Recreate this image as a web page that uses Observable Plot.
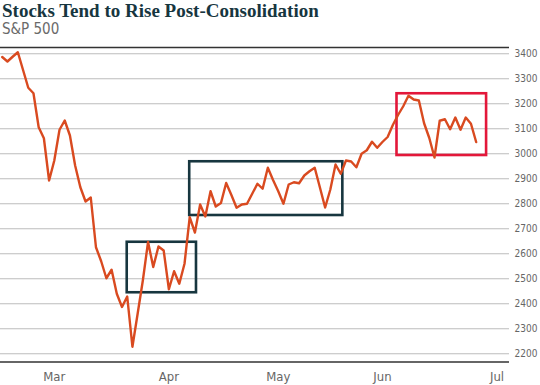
<!DOCTYPE html>
<html><head><meta charset="utf-8">
<script src="https://cdn.jsdelivr.net/npm/d3@7"></script>
<script src="https://cdn.jsdelivr.net/npm/@observablehq/plot@0.6"></script>
<style>
body{margin:0;background:#fff;width:540px;height:385px;overflow:hidden}
#head{height:40px;position:relative}
#title{position:absolute;left:2px;top:1px;line-height:19px;font-family:"Liberation Serif","DejaVu Serif",serif;font-weight:bold;font-size:19px;color:#17363f;white-space:nowrap}
#sub{position:absolute;left:2px;top:21px;line-height:16px;font-family:"Liberation Sans Narrow","DejaVu Sans Condensed","Roboto",sans-serif;font-size:15px;color:#6a6a6a;white-space:nowrap}
</style></head>
<body>
<div id="head"><div id="title">Stocks Tend to Rise Post-Consolidation</div><div id="sub">S&amp;P 500</div></div>
<div id="chart"></div>
<script>
// S&P 500 daily closes (trading-day index 0 = mid-Feb)
const sp500 = [3387,3369,3388,3406,3335,3264,3242,3106,3062,2893,
  2973,3096,3133,3073,2953,2866,2809,2825,2626,2570,
  2502,2536,2440,2387,2429,2228,2360,2493,2647,2547,
  2629,2613,2458,2530,2480,2560,2746,2685,2797,2749,
  2850,2789,2803,2883,2835,2784,2797,2800,2840,2880,
  2860,2944,2895,2850,2800,2877,2886,2882,2913,2930,
  2944,2865,2785,2857,2957,2920,2973,2969,2946,3000,
  3014,3048,3024,3047,3067,3115,3155,3190,3232,3217,
  3213,3122,3063,2985,3132,3138,3098,3145,3096,3145,
  3120,3047];
const monthTicks = [10, 32, 53, 73, 95];
const monthLabels = ["Mar", "Apr", "May", "Jun", "Jul"];
const yTicks = [2200,2300,2400,2500,2600,2700,2800,2900,3000,3100,3200,3300,3400];
// consolidation boxes (trading-day index, price)
const boxStart = [24, 36, 75.8];
const boxEnd = [37.3, 65.4, 93];
const boxLow = [2444, 2753, 2993];
const boxHigh = [2646, 2968, 3240];
const boxColors = ["#17363f", "#17363f", "#e3173a"];

const boxes = boxStart.map((s, i) => ({x1: s, x2: boxEnd[i], y1: boxLow[i], y2: boxHigh[i], c: boxColors[i]}));
const yMin = 2167, yMax = 3425;

const chart = Plot.plot({
  width: 540, height: 345,
  marginTop: 7, marginBottom: 23.5, marginLeft: 0, marginRight: 31,
  style: {fontFamily: '"Liberation Sans Narrow","DejaVu Sans Condensed",sans-serif', color: "#666", background: "#fff"},
  x: {domain: [-0.33, 97.4]},
  y: {domain: [yMin, yMax]},
  marks: [
    Plot.ruleY(yTicks, {stroke: "#bdbdbd", strokeWidth: 1}),
    Plot.ruleY([yMax], {stroke: "#333", strokeWidth: 1.5}),
    Plot.ruleY([yMin], {stroke: "#666", strokeWidth: 2}),
    Plot.rect(boxes, {x1: "x1", x2: "x2", y1: "y1", y2: "y2", fill: "none", stroke: "c", strokeWidth: 2.6}),
    Plot.line(sp500, {x: (d, i) => i, y: d => d, stroke: "#d94a20", strokeWidth: 2.4, strokeLinejoin: "round"}),
    Plot.axisY(yTicks, {anchor: "right", tickSize: 0, tickPadding: 5, fontSize: 10, tickFormat: d => String(d), label: null}),
    Plot.axisX(monthTicks, {anchor: "bottom", tickSize: 0, tickPadding: 10, fontSize: 13, tickFormat: (d) => monthLabels[monthTicks.indexOf(d)], label: null})
  ]
});
document.getElementById("chart").appendChild(chart);
</script>
</body></html>
